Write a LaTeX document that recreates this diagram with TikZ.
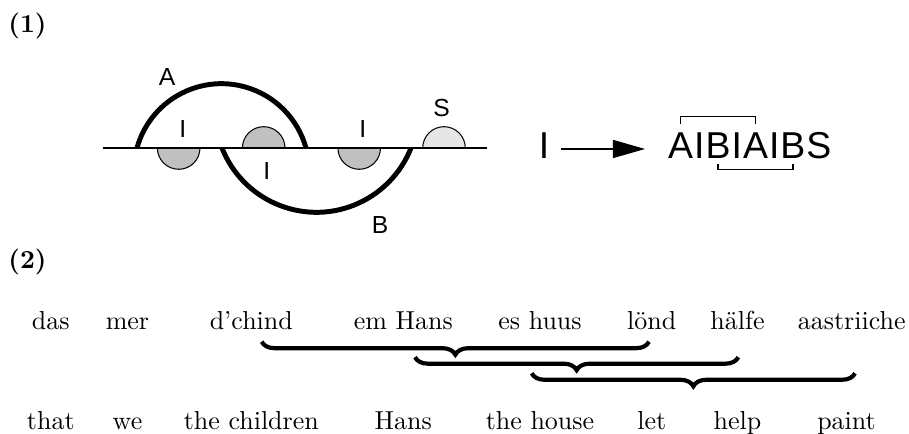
\documentclass[tikz,border=0pt]{standalone}
\usepackage{fontspec}
\newfontfamily\diagfont{Liberation Sans}
\usetikzlibrary{arrows.meta, positioning, decorations.pathreplacing}
\definecolor{cupgray}{RGB}{192,192,192}
\definecolor{cuplight}{RGB}{230,230,230}

\begin{document}
\begin{tikzpicture}[
    x=0.385pt, y=0.385pt,
    word/.style={inner sep=0pt, anchor=base},
    lbl/.style={font=\diagfont\fontsize{9.5}{11}\selectfont, inner sep=0pt},
    big/.style={font=\diagfont\Large, inner sep=0pt},
    head/.style={font=\bfseries, inner sep=0pt},
    cup/.style={draw, line width=0.4pt, fill=cupgray},
    bigarc/.style={line width=1.9pt},
    bracket/.style={line width=0.5pt},
    arrow/.style={-{Triangle[length=12.4pt, width=7pt]}, line width=0.45pt},
    ubrace/.style={decorate, decoration={brace, mirror, amplitude=5pt}, line width=1.6pt}
]
\useasboundingbox (0,0) rectangle (909,434);

% (1)
\node[head] (h1) at (27.5,408) {(1)};

\filldraw[cup] (157.4,286) arc[start angle=180, end angle=360, radius=21.3] -- cycle;
\filldraw[cup] (242.4,286) arc[start angle=180, end angle=0, radius=21.3] -- cycle;
\filldraw[cup] (337.9,286) arc[start angle=180, end angle=360, radius=21.3] -- cycle;
\filldraw[cup, fill=cuplight] (422.7,286) arc[start angle=180, end angle=0, radius=21.3] -- cycle;

\coordinate (base0) at (103,286);
\coordinate (base1) at (487,286);
\draw[line width=0.5pt] (base0) -- (base1);

\coordinate (a0) at (137,286);
\coordinate (b0) at (222,286);
\draw[bigarc] (a0) arc[start angle=164.54, end angle=15.46, radius=87.67];
\draw[bigarc] (b0) arc[start angle=201.53, end angle=338.47, radius=101.59];

\node[lbl] (labA) at (167,357.3) {A};
\node[lbl] (labB) at (380,209) {B};
\node[lbl] (labI1) at (182.7,305.3) {I};
\node[lbl] (labI2) at (266.7,263) {I};
\node[lbl] (labI3) at (362.7,305.3) {I};
\node[lbl] (labS) at (441.7,325.7) {S};

\node[big, anchor=base] (iarr) at (544,275.7) {I};
\node[big, anchor=base west] (l1) at (667.7,275.7) {A};
\node[big, base right=0pt of l1] (l2) {I};
\node[big, base right=0pt of l2] (l3) {B};
\node[big, base right=0pt of l3] (l4) {I};
\node[big, base right=0pt of l4] (l5) {A};
\node[big, base right=0pt of l5] (l6) {I};
\node[big, base right=0pt of l6] (l7) {B};
\node[big, base right=0pt of l7] (l8) {S};

\coordinate (arrtip) at (645,285);
\draw[arrow, shorten <=4.5pt] (iarr.east |- arrtip) -- (arrtip);
\draw[bracket] ([yshift=3.2pt]l1.north) -- ([yshift=6pt]l1.north) -- ([yshift=6pt]l5.north) -- ([yshift=3.2pt]l5.north);
\draw[bracket] ([yshift=-1.9pt]l3.south) -- ([yshift=-4.1pt]l3.south) -- ([yshift=-4.1pt]l7.south) -- ([yshift=-1.9pt]l7.south);

% (2)
\node[head] (h2) at (27.5,171.5) {(2)};

\node[word] (d1) at (50.8,104) {das};
\node[word] (d2) at (127.5,104) {mer};
\node[word] (d3) at (251.3,104) {d'chind};
\node[word] (d4) at (403.3,104) {em Hans};
\node[word] (d5) at (540,104) {es huus};
\node[word] (d6) at (651.7,104) {lönd};
\node[word] (d7) at (737.5,104) {hälfe};
\node[word] (d8) at (851.7,104) {aastriiche};

\node[word, below=38.5pt of d1.base, anchor=base] (e1) {that};
\node[word, below=38.5pt of d2.base, anchor=base] (e2) {we};
\node[word, below=38.5pt of d3.base, anchor=base] (e3) {the children};
\node[word, below=38.5pt of d4.base, anchor=base] (e4) {Hans};
\node[word, below=38.5pt of d5.base, anchor=base] (e5) {the house};
\node[word, below=38.5pt of d6.base, anchor=base] (e6) {let};
\node[word, below=38.5pt of d7.base, anchor=base] (e7) {help};
\node[word, below=38.5pt of d8.base, anchor=base, xshift=-2pt] (e8) {paint};

\coordinate (b1l) at (261.7,92.3);
\coordinate (b1r) at (649,92.3);
\coordinate (b2l) at (415,76.8);
\coordinate (b2r) at (738.3,76.8);
\coordinate (b3l) at (531.7,60.7);
\coordinate (b3r) at (855,60.7);
\draw[ubrace] (b1l) -- (b1r);
\draw[ubrace] (b2l) -- (b2r);
\draw[ubrace] (b3l) -- (b3r);
\end{tikzpicture}
\end{document}
